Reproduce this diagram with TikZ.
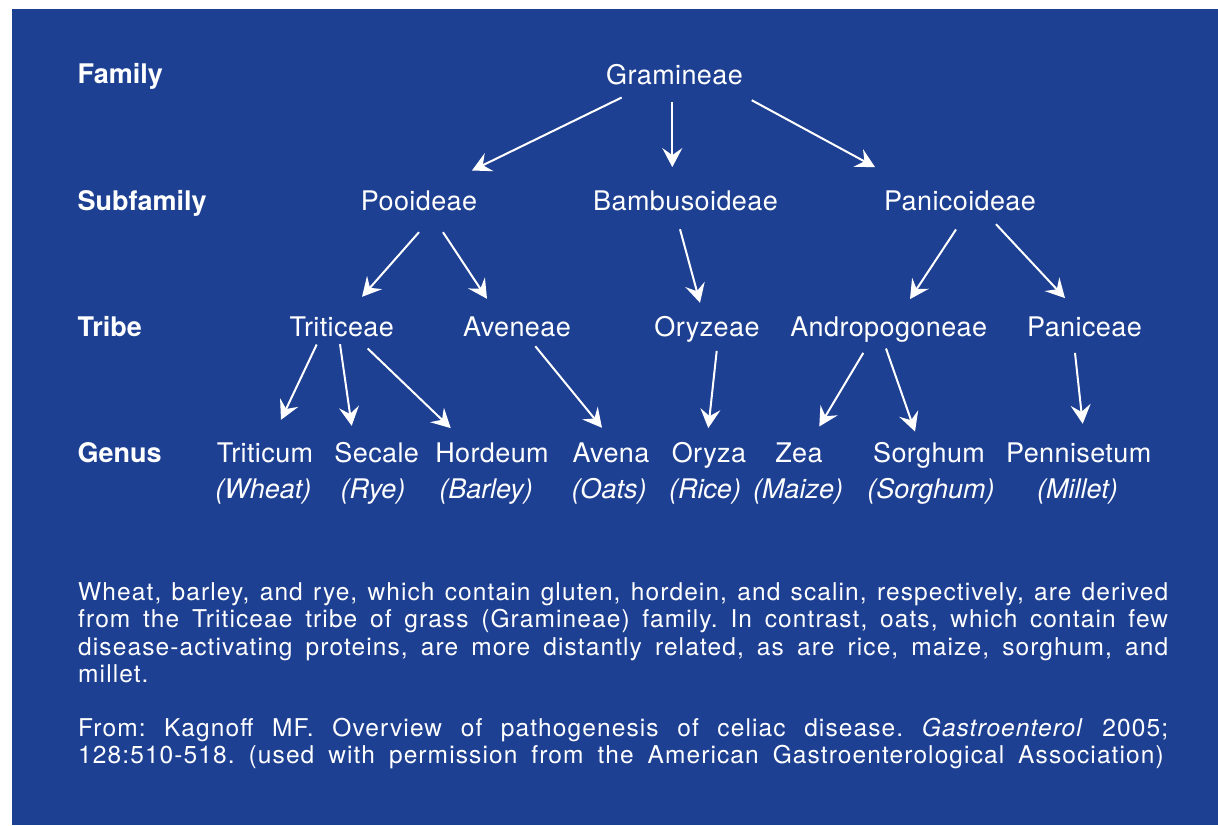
\documentclass[tikz,border=0pt]{standalone}
\usepackage{fontspec}
\setmainfont{TeX Gyre Heros}
\newfontfamily\treefont[LetterSpace=1.5]{TeX Gyre Heros}
\newfontfamily\bodyfont[LetterSpace=4.5]{TeX Gyre Heros}
\usetikzlibrary{arrows.meta}
\definecolor{bgblue}{RGB}{30,64,146}
\hyphenpenalty=10000
\exhyphenpenalty=10000
\tolerance=9999
\frenchspacing
\newcommand{\widespaces}{\spaceskip=0.57em plus 0.3em minus 0.3em\relax}
\begin{document}
\begin{tikzpicture}[x=1pt,y=-1pt,
  lbl/.style={anchor=base west,inner sep=0pt,text=white,font=\fontsize{27}{30}\selectfont\bfseries},
  tx/.style={anchor=base,inner sep=0pt,text height=20pt,text depth=6pt,text=white,font=\treefont\fontsize{27}{30}\selectfont},
  cmn/.style={anchor=base,inner sep=0pt,text=white,font=\fontsize{27}{30}\selectfont\itshape},
  arr/.style={draw=white,line width=2pt,-{Stealth[length=19pt,width=20pt,inset=7pt]}},
  para/.style={anchor=base west,inner sep=0pt,text width=1090pt,align=justify,text=white,font=\bodyfont\fontsize{24.5}{27.2}\selectfont\widespaces}]
\useasboundingbox (0,0) rectangle (1218,825);
\fill[bgblue] (12,9) rectangle (1218,825);
% rank labels
\node[lbl] (lfam) at (77.5,83.5) {Family};
\node[lbl] (lsub) at (77.5,210) {Subfamily};
\node[lbl] (ltri) at (77.5,336) {Tribe};
\node[lbl] (lgen) at (77.5,462.7) {Genus};
% tree
\node[tx] (gram) at (674.5,84) {Gramineae};
\node[tx] (pooi) at (419,210) {Pooideae};
\node[tx] (bamb) at (685.5,210) {Bambusoideae};
\node[tx] (pani) at (960,210) {Panicoideae};
\node[tx] (trit) at (341.7,336) {Triticeae};
\node[tx] (aven) at (517,336) {Aveneae};
\node[tx] (oryz) at (707,336) {Oryzeae};
\node[tx] (andr) at (888.7,336) {Andropogoneae};
\node[tx] (panc) at (1084.5,336) {Paniceae};
\node[tx] (tcum) at (265,462.7) {Triticum};
\node[tx] (secl) at (376.7,462.7) {Secale};
\node[tx] (hord) at (492,462.7) {Hordeum};
\node[tx] (avna) at (611,462.7) {Avena};
\node[tx] (oryza) at (709,462.7) {Oryza};
\node[tx] (zea) at (799,462.7) {Zea};
\node[tx] (sorg) at (929,462.7) {Sorghum};
\node[tx] (penn) at (1078.7,462.7) {Pennisetum};
\node[cmn] (wheat) at (263.3,498) {(Wheat)};
\node[cmn] (rye) at (373,498) {(Rye)};
\node[cmn] (barley) at (486,498) {(Barley)};
\node[cmn] (oats) at (609,498) {(Oats)};
\node[cmn] (rice) at (705,498) {(Rice)};
\node[cmn] (maize) at (798,498) {(Maize)};
\node[cmn] (sorgc) at (931,498) {(Sorghum)};
\node[cmn] (millet) at (1077.5,498) {(Millet)};
% arrows
\draw[arr] ([shift={(-52.8,7.3)}]gram.south) -- ([shift={(53,-19.3)}]pooi.north);
\draw[arr] ([shift={(-2.2,12)}]gram.south) -- ([shift={(-13.2,-22.7)}]bamb.north);
\draw[arr] ([shift={(77.2,10)}]gram.south) -- ([shift={(-85,-22.7)}]pani.north);
\draw[arr] ([shift={(0,16)}]pooi.south) -- ([shift={(20.3,-19)}]trit.north);
\draw[arr] ([shift={(24,16)}]pooi.south) -- ([shift={(-30,-17)}]aven.north);
\draw[arr] ([shift={(-5.5,13)}]bamb.south) -- ([shift={(-7,-13)}]oryz.north);
\draw[arr] ([shift={(-4,13.3)}]pani.south) -- ([shift={(21.3,-16.7)}]andr.north);
\draw[arr] ([shift={(36,8)}]pani.south) -- ([shift={(-19.5,-17.7)}]panc.north);
\draw[arr] ([shift={(-25,2.3)}]trit.south) -- ([shift={(16,-22.7)}]tcum.north);
\draw[arr] ([shift={(-1.7,2)}]trit.south) -- ([shift={(-25,-16.7)}]secl.north);
\draw[arr] ([shift={(26,6.3)}]trit.south) -- ([shift={(-41.3,-14.4)}]hord.north);
\draw[arr] ([shift={(18.3,4)}]aven.south) -- ([shift={(-9,-14.7)}]avna.north);
\draw[arr] ([shift={(9.7,8.7)}]oryz.south) -- ([shift={(-0.7,-14.4)}]oryza.north);
\draw[arr] ([shift={(-25.4,10.7)}]andr.south) -- ([shift={(20.3,-16)}]zea.north);
\draw[arr] ([shift={(-2.7,6.3)}]andr.south) -- ([shift={(-14,-11)}]sorg.north);
\draw[arr] ([shift={(-9.5,10.7)}]panc.south) -- ([shift={(4,-18.7)}]penn.north);
% caption
\node[para] (p1) at (78,600.7) {Wheat, barley, and rye, which contain gluten, hordein, and scalin, respectively, are derived\linebreak from the Triticeae tribe of grass (Gramineae) family. In contrast, oats, which contain few\linebreak disease-activating proteins, are more distantly related, as are rice, maize, sorghum, and\linebreak millet.};
\node[para] (p2) at (78,736.7) {From: Kagnoff MF. Overview of pathogenesis of celiac disease. \textit{Gastroenterol} 2005;\linebreak 128:510-518. (used with permission from the American Gastroenterological Association)};
\end{tikzpicture}
\end{document}
